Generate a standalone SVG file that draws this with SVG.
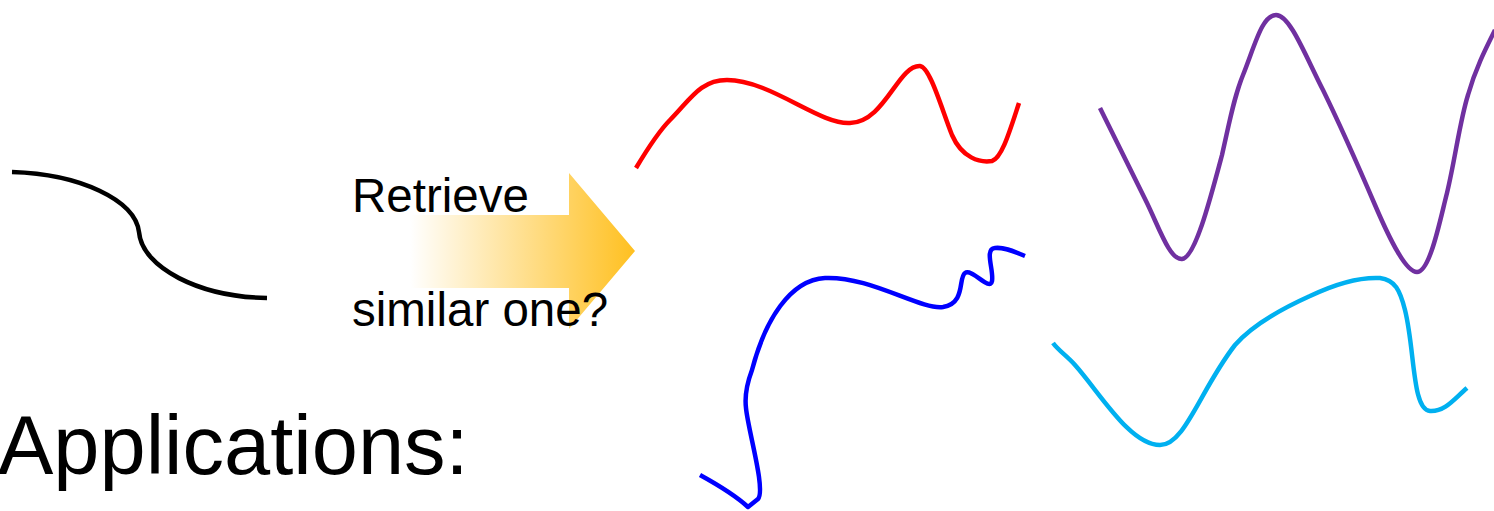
<svg xmlns="http://www.w3.org/2000/svg" width="1494" height="511" viewBox="0 0 1494 511">
<style>
.c{fill:none;stroke-width:4.5;stroke-linecap:butt;stroke-linejoin:round}
.t{font-family:"Liberation Sans",Arial,sans-serif;fill:#000}
</style>
<defs>
<linearGradient id="g" gradientUnits="userSpaceOnUse" x1="347" y1="0" x2="635" y2="0">
<stop offset="0" stop-color="#FFFFFF"/>
<stop offset="0.22" stop-color="#FFFFFF"/>
<stop offset="1" stop-color="#FFC020"/>
</linearGradient>
</defs>
<rect width="1494" height="511" fill="#fff"/>
<g id="query">
<path class="c" stroke="#000" d="M12,172 C80,174 135,200 139,232 C142,268 200,297 267,298"/>
</g>
<g id="arrow">
<polygon fill="url(#g)" points="347,215 569,215 569,173 635,251 569,329 569,288 347,288"/>
<text class="t" x="352" y="212" font-size="47.5">Retrieve</text>
<text class="t" x="352" y="326" font-size="47.5">similar one?</text>
</g>
<g id="red">
<path class="c" stroke="#FF0000" d="M636,168 C648,148 658,132 670,120 C690,100 700,80 727,80 C770,80 820,125 850,123 C885,122 898,65 920,66 C930,67 942,110 952,135 C962,158 980,163 992,161 C1002,158 1010,130 1019,103"/>
</g>
<g id="blue">
<path class="c" stroke="#0000FF" d="M700,475 C720,486 735,495 748,507 L758,499 C766,490 748,430 746,408 C744,392 749,378 752,370 C765,320 790,280 825,278 C870,276 920,310 943,307 C966,303 958,278 965,273 C972,268 990,292 992,281 C994,270 984,249 995,248 C1005,247 1015,252 1025,256"/>
</g>
<g id="purple">
<path class="c" stroke="#7030A0" d="M1100,108 L1147,203 C1160,230 1170,260 1182,259 C1195,258 1210,200 1222,155 C1230,120 1234,97 1243,75 C1255,45 1262,15 1276,15 C1290,15 1305,55 1323,90 C1345,135 1360,170 1375,205 C1390,240 1406,272 1417,272 C1430,272 1440,220 1447,193 C1455,160 1460,120 1468,95 C1475,70 1485,50 1495,30"/>
</g>
<g id="cyan">
<path class="c" stroke="#00B0F0" d="M1053,343 C1058,350 1068,357 1075,365 C1100,393 1130,445 1160,445 C1185,445 1200,390 1235,345 C1255,322 1290,305 1310,296 C1335,284 1360,277 1380,278 C1395,280 1400,290 1405,310 C1415,350 1412,410 1430,411 C1445,412 1455,398 1467,388"/>
</g>
<g id="label">
<text class="t" x="-2" y="474" font-size="83">Applications:</text>
</g>
</svg>
